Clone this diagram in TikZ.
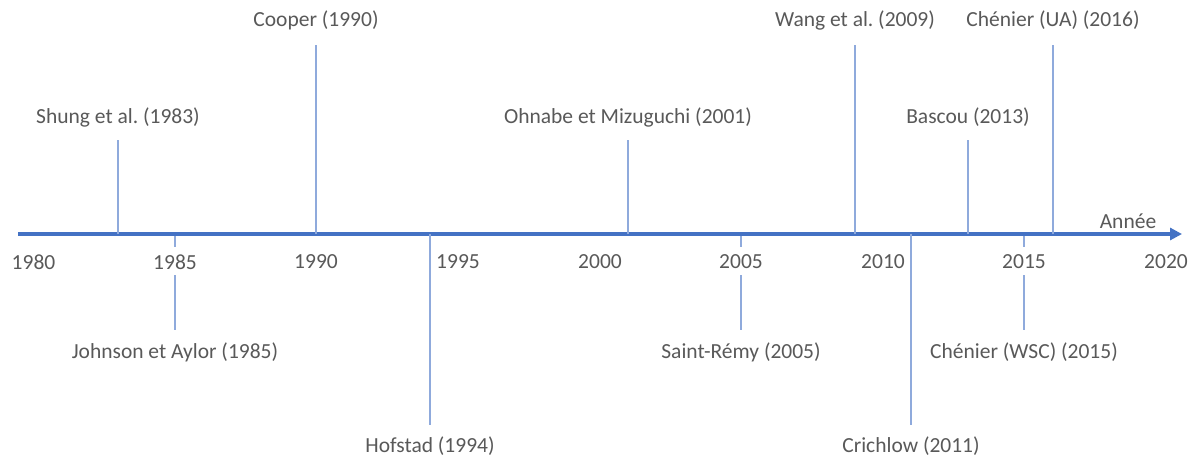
\documentclass[tikz,border=0pt]{standalone}
\usepackage{fontspec}
\setmainfont{Carlito}
\frenchspacing
\usetikzlibrary{arrows.meta}
\definecolor{axisblue}{HTML}{4472C4}
\definecolor{stemblue}{HTML}{8FAADC}
\definecolor{txtgray}{HTML}{595959}
\begin{document}
\begin{tikzpicture}[x=1pt,y=-1pt,
  lbl/.style={text=txtgray,font=\fontsize{21.5}{24}\selectfont,inner sep=0pt,anchor=center},
  yr/.style={lbl},
  stem/.style={draw=stemblue,line width=2pt},
  axisline/.style={draw=axisblue,line width=4pt,-{Triangle[length=12pt,width=12pt]}}]
\useasboundingbox[fill=white] (0,0) rectangle (1202,458);
% time axis
\coordinate (a0) at (18,234);
\coordinate (a1) at (1182,234);
\draw[axisline] (a0) -- (a1);
\node[lbl] (annee) at (1128,221) {Année};
% year labels (1 year = 28.3 px, 1980 at x=33.5)
\foreach \y/\x in {1980/33.5,1985/175,1990/316,1995/458,2000/600,2005/741,2010/883,2015/1024,2020/1166}
  \node[yr] (y\y) at (\x,262) {\y};
% events above the axis
\foreach \n/\x/\t/\ly/\txt in {
  e83/118/140/117/{Shung et al. (1983)},
  e90/316/45/20/{Cooper (1990)},
  e01/628/140/117/{Ohnabe et Mizuguchi (2001)},
  e09/855/45/20/{Wang et al. (2009)},
  e13/968/140/117/{Bascou (2013)},
  e16/1053/45/20/{Chénier (UA) (2016)}}{
  \coordinate (\n top) at (\x,\t);
  \coordinate (\n base) at (\x,234);
  \node[lbl] (\n) at (\x,\ly) {\txt};
  \draw[stem] (\n base) -- (\n top);
}
% events below the axis
\foreach \n/\x/\s/\b/\ly/\txt in {
  e85/175/275/330/352/{Johnson et Aylor (1985)},
  e05/741/275/330/352/{Saint-Rémy (2005)},
  e15/1024/275/330/352/{Chénier (WSC) (2015)},
  e94/430/234/425/446/{Hofstad (1994)},
  e11/911/234/425/446/{Crichlow (2011)}}{
  \coordinate (\n top) at (\x,\s);
  \coordinate (\n base) at (\x,\b);
  \node[lbl] (\n) at (\x,\ly) {\txt};
  \draw[stem] (\n top) -- (\n base);
}
% short stems between the axis and the year labels
\foreach \n/\x in {e85/175,e05/741,e15/1024}{
  \coordinate (\n tick) at (\x,236);
  \coordinate (\n tickend) at (\x,247);
  \draw[stem] (\n tick) -- (\n tickend);
}
\end{tikzpicture}
\end{document}
